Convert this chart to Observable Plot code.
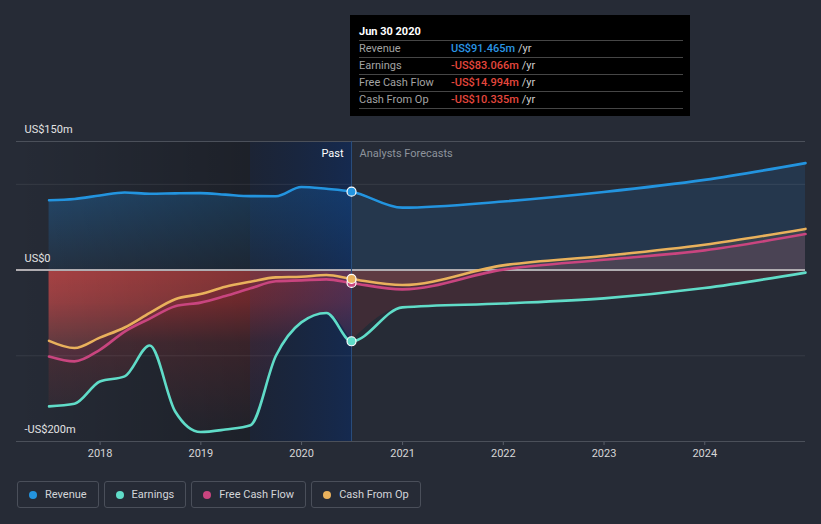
<!DOCTYPE html>
<html><head><meta charset="utf-8">
<script src="https://cdn.jsdelivr.net/npm/d3@7"></script>
<script src="https://cdn.jsdelivr.net/npm/@observablehq/plot@0.6"></script>
<style>
html,body{margin:0;padding:0;background:#262b36;}
body{width:821px;height:524px;position:relative;overflow:hidden;font-family:Roboto,"Noto Sans",sans-serif;}
#chart{position:absolute;left:0;top:0;}
#tip{position:absolute;left:350px;top:15px;width:340px;height:101px;background:#000;box-sizing:border-box;padding:0 7px 0 9px;font-size:11px;}
#tip .t{padding-top:9px;height:16px;line-height:16px;color:#fff;font-weight:bold;border-bottom:1px solid #464646;}
#tip .r{height:16px;line-height:16px;border-bottom:1px solid #464646;display:flex;}
#tip .l{width:92px;color:#a3a3a3;}
#tip .v{font-weight:500;}
#tip .u{color:#cfcfcf;margin-left:3px}
#legend{position:absolute;left:17px;top:481px;display:flex;gap:5px;}
.item{box-sizing:border-box;height:27px;border:1px solid #4a4f5a;border-radius:3px;display:flex;align-items:center;padding:0 11px 0 11px;color:#d3d5d9;font-size:11px;}
.dot{width:8px;height:8px;border-radius:50%;margin-right:8px;}
</style></head>
<body>
<div id="chart"></div><div id="tip"></div><div id="legend"></div>
<script>
// ---- data ----
const pastDates = ["2017-06-30","2017-09-30","2017-12-31","2018-03-31","2018-06-30","2018-09-30","2018-12-31","2019-03-31","2019-06-30","2019-09-30","2019-12-31","2020-03-31","2020-06-30"];
const pastRevenue  = [81.5, 83, 87, 90.5, 89, 89.5, 89.8, 88, 86.3, 86.2, 97, 94.8, 91.465];
const pastEarnings = [-159, -156, -130, -124, -88, -165, -189, -186, -181, -100, -61, -50, -83.066];
const pastFCF      = [-100.8, -106.5, -93, -71.7, -56.6, -42.2, -38, -30.2, -21.3, -13, -12, -10.8, -14.994];
const pastCFO      = [-82.6, -91, -78.8, -67, -50, -34, -28, -19.5, -13.6, -8.5, -7.8, -5.8, -10.335];
const forecastDates = ["2020-12-31","2021-12-31","2022-12-31","2023-12-31","2024-12-31"];
const fcRevenue  = [72.8, 80, 91.1, 105.2, 124.8];
const fcEarnings = [-43.5, -39, -33, -21, -3];
const fcFCF      = [-22.5, 0.5, 12, 23, 42];
const fcCFO      = [-17.5, 5.5, 16.5, 29.5, 48];
const seriesNames  = ["Revenue", "Earnings", "Free Cash Flow", "Cash From Op"];
const seriesColors = ["#2394df", "#60dcc8", "#c9457f", "#e9b15c"];
const yLabelValues = [150, 0, -200];
const yLabelTexts  = ["US$150m", "US$0", "-US$200m"];
const xTickYears   = [2018, 2019, 2020, 2021, 2022, 2023, 2024];
const tipTitle = "Jun 30 2020";
const tipValues = ["US$91.465m", "-US$83.066m", "-US$14.994m", "-US$10.335m"];
const tipValueColors = ["#2a96e6", "#e5473d", "#e5473d", "#e5473d"];

const pastRows = pastDates.map((d, i) => ({date: new Date(d), revenue: pastRevenue[i], earnings: pastEarnings[i], fcf: pastFCF[i], cfo: pastCFO[i]}));
const last = pastRows[pastRows.length - 1];
const fcRows = [last].concat(forecastDates.map((d, i) => ({date: new Date(d), revenue: fcRevenue[i], earnings: fcEarnings[i], fcf: fcFCF[i], cfo: fcCFO[i]})));
const allRows = pastRows.concat(fcRows.slice(1));
const yearBefore = new Date("2019-06-30");
const domainStart = new Date("2017-03-04");
const domainEnd = new Date("2024-12-31");
const curve = "monotone-x";

const chart = Plot.plot({
  width: 821, height: 470,
  marginLeft: 16, marginRight: 16, marginTop: 141, marginBottom: 29,
  style: {background: "transparent", fontFamily: "Roboto, sans-serif", fontSize: "11px", color: "#d6d6d6", overflow: "visible"},
  x: {type: "utc", domain: [domainStart, domainEnd]},
  y: {domain: [-200, 150], axis: null},
  marks: [
    Plot.areaY(pastRows, {x: "date", y: "revenue", fill: "url(#revPast)", curve}),
    Plot.areaY(fcRows, {x: "date", y: "revenue", fill: "rgba(30,140,230,0.13)", curve}),
    Plot.areaY(pastRows, {x: "date", y: "earnings", fill: "url(#earnPast)", curve}),
    Plot.areaY(fcRows, {x: "date", y: "earnings", fill: "rgba(220,60,60,0.14)", curve}),
    Plot.areaY(allRows, {x: "date", y: "cfo", fill: "rgba(240,180,90,0.10)", curve}),
    Plot.areaY(allRows, {x: "date", y: "fcf", fill: "rgba(200,70,130,0.12)", curve}),
    Plot.rect([{a: domainStart, b: yearBefore}], {x1: "a", x2: "b", fill: "url(#shadeDark)"}),
    Plot.rect([{a: yearBefore, b: last.date}], {x1: "a", x2: "b", fill: "url(#shadeBlue)"}),
    Plot.ruleY([100, -100], {stroke: "rgba(255,255,255,0.08)"}),
    Plot.ruleY([150], {stroke: "#4b505a"}),
    Plot.ruleY([0], {stroke: "#b0adb1", strokeWidth: 2}),
    Plot.ruleX([last.date], {stroke: "#2a4e7c"}),
    Plot.line(allRows, {x: "date", y: "earnings", stroke: seriesColors[1], strokeWidth: 2.6, curve}),
    Plot.line(allRows, {x: "date", y: "fcf", stroke: seriesColors[2], strokeWidth: 2.6, curve}),
    Plot.line(allRows, {x: "date", y: "cfo", stroke: seriesColors[3], strokeWidth: 2.6, curve}),
    Plot.line(allRows, {x: "date", y: "revenue", stroke: seriesColors[0], strokeWidth: 2.6, curve}),
    Plot.dot([last], {x: "date", y: "revenue", r: 4.5, fill: seriesColors[0], stroke: "#fff", strokeWidth: 1.2}),
    Plot.dot([last], {x: "date", y: "earnings", r: 4.5, fill: seriesColors[1], stroke: "#fff", strokeWidth: 1.2}),
    Plot.dot([last], {x: "date", y: "fcf", r: 4.5, fill: seriesColors[2], stroke: "#fff", strokeWidth: 1.2}),
    Plot.dot([last], {x: "date", y: "cfo", r: 4.5, fill: seriesColors[3], stroke: "#fff", strokeWidth: 1.2}),
    Plot.axisX({ticks: xTickYears.map(y => new Date(Date.UTC(y, 0, 1))), tickFormat: d => String(d.getUTCFullYear()), tickSize: 4, tickPadding: 4, stroke: "#5a5f6a", fill: "#d6d6d6", fontSize: 11, label: null}),
    Plot.ruleY([-200], {stroke: "#4b505a"}),
    Plot.text(yLabelValues, {y: d => d, text: (d, i) => yLabelTexts[i], frameAnchor: "left", dx: 8, dy: -12, textAnchor: "start", fill: "#e3e3e3", fontSize: 11}),
    Plot.text([last.date], {x: d => d, text: () => "Past", frameAnchor: "top", lineAnchor: "middle", dy: 12, dx: -8, textAnchor: "end", fill: "#ffffff", fontSize: 11}),
    Plot.text([last.date], {x: d => d, text: () => "Analysts Forecasts", frameAnchor: "top", lineAnchor: "middle", dy: 12, dx: 8, textAnchor: "start", fill: "#8d939c", fontSize: 11})
  ]
});

// gradients
const NS = "http://www.w3.org/2000/svg";
function grad(id, vertical, stops) {
  const g = document.createElementNS(NS, "linearGradient");
  g.setAttribute("id", id);
  g.setAttribute("x1", "0"); g.setAttribute("y1", "0");
  g.setAttribute("x2", vertical ? "0" : "1"); g.setAttribute("y2", vertical ? "1" : "0");
  for (const [o, c, a] of stops) {
    const s = document.createElementNS(NS, "stop");
    s.setAttribute("offset", o); s.setAttribute("stop-color", c); s.setAttribute("stop-opacity", a);
    g.appendChild(s);
  }
  return g;
}
const defs = document.createElementNS(NS, "defs");
defs.appendChild(grad("revPast", true, [[0, "rgb(30,140,230)", 0.32], [1, "rgb(30,140,230)", 0.08]]));
defs.appendChild(grad("earnPast", true, [[0, "rgb(220,60,60)", 0.68], [0.2, "rgb(220,60,60)", 0.55], [0.45, "rgb(220,60,60)", 0.2], [1, "rgb(220,60,60)", 0.02]]));
defs.appendChild(grad("shadeDark", false, [[0, "rgb(0,0,0)", 0], [1, "rgb(0,0,0)", 0.24]]));
defs.appendChild(grad("shadeBlue", false, [[0, "rgb(5,20,50)", 0.3], [1, "rgb(0,40,110)", 0.45]]));
chart.insertBefore(defs, chart.firstChild);
document.getElementById("chart").appendChild(chart);

// tooltip
const tip = document.getElementById("tip");
tip.innerHTML = `<div class="t">${tipTitle}</div>` + seriesNames.map((n, i) =>
  `<div class="r"><span class="l">${n}</span><span class="v" style="color:${tipValueColors[i]}">${tipValues[i]}</span><span class="u">/yr</span></div>`).join("");

// legend
document.getElementById("legend").innerHTML = seriesNames.map((n, i) =>
  `<div class="item"><span class="dot" style="background:${seriesColors[i]}"></span>${n}</div>`).join("");
</script>
</body></html>
